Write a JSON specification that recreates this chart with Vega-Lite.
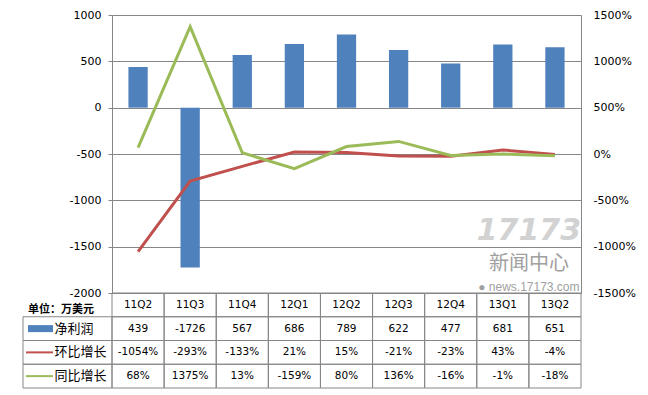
{
  "$schema": "https://vega.github.io/schema/vega-lite/v6.json",
  "padding": {"left": 22, "top": 9, "right": 0, "bottom": 0},
  "background": "white",
  "config": {"view": {"stroke": null}, "font": "DejaVu Sans"},
  "datasets": {
    "main": [
      {"q": "11Q2", "profit": 439, "qoq": -1054, "yoy": 68},
      {"q": "11Q3", "profit": -1726, "qoq": -293, "yoy": 1375},
      {"q": "11Q4", "profit": 567, "qoq": -133, "yoy": 13},
      {"q": "12Q1", "profit": 686, "qoq": 21, "yoy": -159},
      {"q": "12Q2", "profit": 789, "qoq": 15, "yoy": 80},
      {"q": "12Q3", "profit": 622, "qoq": -21, "yoy": 136},
      {"q": "12Q4", "profit": 477, "qoq": -23, "yoy": -16},
      {"q": "13Q1", "profit": 681, "qoq": 43, "yoy": -1},
      {"q": "13Q2", "profit": 651, "qoq": -4, "yoy": -18}
    ],
    "rowlabels": [
      {"row": "单位：万美元"},
      {"row": "净利润"},
      {"row": "环比增长"},
      {"row": "同比增长"}
    ],
    "table": [
      {"q": "11Q2", "row": "单位：万美元", "text": "11Q2"},
      {"q": "11Q3", "row": "单位：万美元", "text": "11Q3"},
      {"q": "11Q4", "row": "单位：万美元", "text": "11Q4"},
      {"q": "12Q1", "row": "单位：万美元", "text": "12Q1"},
      {"q": "12Q2", "row": "单位：万美元", "text": "12Q2"},
      {"q": "12Q3", "row": "单位：万美元", "text": "12Q3"},
      {"q": "12Q4", "row": "单位：万美元", "text": "12Q4"},
      {"q": "13Q1", "row": "单位：万美元", "text": "13Q1"},
      {"q": "13Q2", "row": "单位：万美元", "text": "13Q2"},
      {"q": "11Q2", "row": "净利润", "text": "439"},
      {"q": "11Q3", "row": "净利润", "text": "-1726"},
      {"q": "11Q4", "row": "净利润", "text": "567"},
      {"q": "12Q1", "row": "净利润", "text": "686"},
      {"q": "12Q2", "row": "净利润", "text": "789"},
      {"q": "12Q3", "row": "净利润", "text": "622"},
      {"q": "12Q4", "row": "净利润", "text": "477"},
      {"q": "13Q1", "row": "净利润", "text": "681"},
      {"q": "13Q2", "row": "净利润", "text": "651"},
      {"q": "11Q2", "row": "环比增长", "text": "-1054%"},
      {"q": "11Q3", "row": "环比增长", "text": "-293%"},
      {"q": "11Q4", "row": "环比增长", "text": "-133%"},
      {"q": "12Q1", "row": "环比增长", "text": "21%"},
      {"q": "12Q2", "row": "环比增长", "text": "15%"},
      {"q": "12Q3", "row": "环比增长", "text": "-21%"},
      {"q": "12Q4", "row": "环比增长", "text": "-23%"},
      {"q": "13Q1", "row": "环比增长", "text": "43%"},
      {"q": "13Q2", "row": "环比增长", "text": "-4%"},
      {"q": "11Q2", "row": "同比增长", "text": "68%"},
      {"q": "11Q3", "row": "同比增长", "text": "1375%"},
      {"q": "11Q4", "row": "同比增长", "text": "13%"},
      {"q": "12Q1", "row": "同比增长", "text": "-159%"},
      {"q": "12Q2", "row": "同比增长", "text": "80%"},
      {"q": "12Q3", "row": "同比增长", "text": "136%"},
      {"q": "12Q4", "row": "同比增长", "text": "-16%"},
      {"q": "13Q1", "row": "同比增长", "text": "-1%"},
      {"q": "13Q2", "row": "同比增长", "text": "-18%"}
    ]
  },
  "columns": 2,
  "spacing": 0,
  "bounds": "flush",
  "align": "each",
  "concat": [
    {
      "width": 89,
      "height": 278,
      "data": {"values": [{"a": 1}]},
      "mark": {"type": "point", "opacity": 0}
    },
    {
      "width": 469,
      "height": 278,
      "data": {"name": "main"},
      "encoding": {
        "x": {"field": "q", "type": "ordinal", "sort": null, "scale": {"type": "band", "paddingInner": 0, "paddingOuter": 0}, "axis": null}
      },
      "layer": [
        {
          "layer": [
            {
              "mark": {"type": "bar", "color": "#4F81BD", "width": {"band": 0.37}},
              "encoding": {
                "y": {
                  "field": "profit", "type": "quantitative",
                  "scale": {"domain": [-2000, 1000], "nice": false, "zero": false},
                  "axis": {
                    "values": [-2000, -1500, -1000, -500, 0, 500, 1000],
                    "labelExpr": "'' + datum.value",
                    "title": null, "grid": true, "gridColor": "#868686",
                    "domainColor": "#868686", "tickColor": "#868686", "tickSize": 4,
                    "labelPadding": 7, "labelFontSize": 11, "labelColor": "#000000",
                    "labelFont": "DejaVu Sans"
                  }
                }
              }
            },
            {
              "data": {"values": [{"mark": "17173"}]},
              "mark": {"type": "text", "font": "DejaVu Sans", "fontSize": 30, "fontWeight": "bold", "fontStyle": "italic", "color": "#d2d2d2", "align": "center", "baseline": "middle"},
              "encoding": {
                "text": {"field": "mark"},
                "x": {"datum": "13Q2", "bandPosition": 0},
                "y": {"datum": -1330, "type": "quantitative"}
              }
            },
            {
              "data": {"values": [{"mark": "新闻中心"}]},
              "mark": {"type": "text", "font": "Noto Sans CJK SC", "fontSize": 20, "color": "#a0a0a0", "align": "center", "baseline": "middle"},
              "encoding": {
                "text": {"field": "mark"},
                "x": {"datum": "13Q2", "bandPosition": 0},
                "y": {"datum": -1690, "type": "quantitative"}
              }
            },
            {
              "data": {"values": [{"mark": "● news.17173.com"}]},
              "mark": {"type": "text", "font": "Liberation Sans", "fontSize": 12, "color": "#a0a0a0", "align": "center", "baseline": "middle"},
              "encoding": {
                "text": {"field": "mark"},
                "x": {"datum": "13Q2", "bandPosition": 0},
                "y": {"datum": -1930, "type": "quantitative"}
              }
            }
          ]
        },
        {
          "layer": [
            {
              "mark": {"type": "line", "color": "#C0504D", "strokeWidth": 3},
              "encoding": {
                "y": {
                  "field": "qoq", "type": "quantitative",
                  "scale": {"domain": [-1500, 1500], "nice": false},
                  "axis": {
                    "orient": "right", "values": [-1500, -1000, -500, 0, 500, 1000, 1500],
                    "labelExpr": "datum.value + '%'", "title": null, "grid": false,
                    "domainColor": "#868686", "ticks": false, "labelPadding": 12,
                    "labelFontSize": 11, "labelColor": "#000000", "labelFont": "DejaVu Sans"
                  }
                }
              }
            },
            {
              "mark": {"type": "line", "color": "#9BBB59", "strokeWidth": 3},
              "encoding": {
                "y": {
                  "field": "yoy", "type": "quantitative",
                  "scale": {"domain": [-1500, 1500], "nice": false},
                  "axis": {
                    "orient": "right", "values": [-1500, -1000, -500, 0, 500, 1000, 1500],
                    "labelExpr": "datum.value + '%'", "title": null, "grid": false,
                    "domainColor": "#868686", "ticks": false, "labelPadding": 12,
                    "labelFontSize": 11, "labelColor": "#000000", "labelFont": "DejaVu Sans"
                  }
                }
              }
            }
          ]
        }
      ],
      "resolve": {"scale": {"y": "independent"}}
    },
    {
      "width": 89,
      "height": 95,
      "data": {"name": "rowlabels"},
      "encoding": {
        "y": {"field": "row", "type": "nominal", "scale": {"type": "band", "domain": ["单位：万美元", "净利润", "环比增长", "同比增长"], "paddingInner": 0, "paddingOuter": 0}, "axis": null}
      },
      "layer": [
        {
          "transform": [{"filter": "datum.row !== '单位：万美元'"}],
          "mark": {"type": "rect", "fill": "transparent", "stroke": "#868686", "strokeWidth": 1}
        },
        {
          "transform": [{"filter": "datum.row === '单位：万美元'"}],
          "mark": {"type": "text", "font": "Noto Sans CJK SC", "fontSize": 11, "fontWeight": "bold", "color": "#000000", "align": "left", "dx": -39.5, "dy": 5},
          "encoding": {"text": {"field": "row"}}
        },
        {
          "transform": [{"filter": "datum.row !== '单位：万美元'"}],
          "mark": {"type": "text", "font": "Noto Sans CJK SC", "fontSize": 13, "color": "#000000", "align": "left", "dx": -13},
          "encoding": {"text": {"field": "row"}}
        },
        {
          "transform": [{"filter": "datum.row === '净利润'"}],
          "mark": {"type": "point", "shape": "M-1,-0.28H1V0.28H-1Z", "size": 625, "filled": true, "color": "#4F81BD", "opacity": 1, "xOffset": -27}
        },
        {
          "transform": [{"filter": "datum.row === '环比增长'"}],
          "mark": {"type": "point", "shape": "M-1,0H1", "size": 729, "filled": false, "color": "#C0504D", "strokeWidth": 2, "opacity": 1, "xOffset": -28}
        },
        {
          "transform": [{"filter": "datum.row === '同比增长'"}],
          "mark": {"type": "point", "shape": "M-1,0H1", "size": 729, "filled": false, "color": "#9BBB59", "strokeWidth": 2, "opacity": 1, "xOffset": -28}
        }
      ]
    },
    {
      "width": 469,
      "height": 95,
      "data": {"name": "table"},
      "encoding": {
        "x": {"field": "q", "type": "ordinal", "sort": null, "scale": {"type": "band", "paddingInner": 0, "paddingOuter": 0}, "axis": null},
        "y": {"field": "row", "type": "nominal", "scale": {"type": "band", "domain": ["单位：万美元", "净利润", "环比增长", "同比增长"], "paddingInner": 0, "paddingOuter": 0}, "axis": null}
      },
      "layer": [
        {
          "mark": {"type": "rect", "fill": "transparent", "stroke": "#868686", "strokeWidth": 1}
        },
        {
          "mark": {"type": "text", "font": "DejaVu Sans", "fontSize": 10.5, "color": "#000000", "baseline": "middle"},
          "encoding": {"text": {"field": "text"}}
        }
      ]
    }
  ]
}
